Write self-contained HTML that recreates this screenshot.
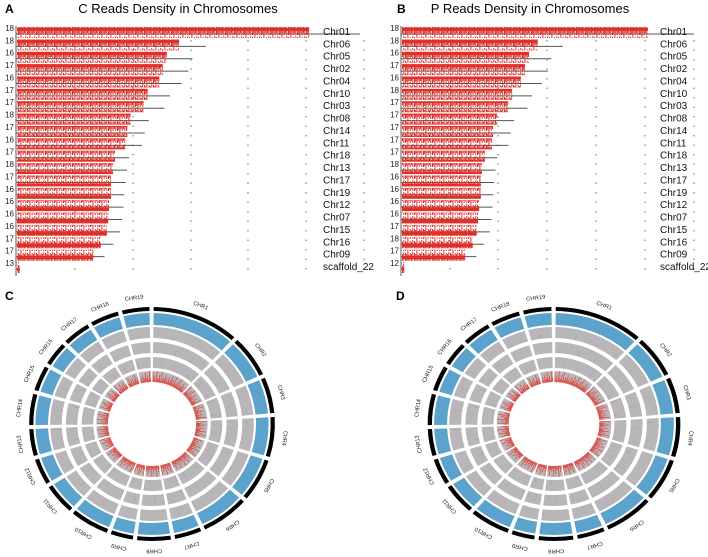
<!DOCTYPE html>
<html><head><meta charset="utf-8">
<style>
html,body{margin:0;padding:0;background:#fff;}
svg{display:block;font-family:"Liberation Sans",sans-serif;}
</style></head>
<body>
<svg id="fig" width="708" height="557" viewBox="0 0 708 557">
<defs>
<pattern id="redpat" width="9" height="12" patternUnits="userSpaceOnUse">
<rect x="0" y="1" width="1" height="10" fill="#e0302a"/>
<rect x="1.2" y="2" width="1" height="8" fill="#e0302a"/>
<rect x="2.4" y="0" width="1" height="12" fill="#e0302a"/>
<rect x="3.6" y="3" width="0.8" height="6" fill="#e0302a"/>
<rect x="4.7" y="1" width="1" height="10" fill="#e0302a"/>
<rect x="6" y="2" width="1" height="7" fill="#e0302a"/>
<rect x="7.3" y="0" width="1" height="11" fill="#e0302a"/>
<rect x="0" y="4" width="9" height="3" fill="#e0302a"/>
</pattern>
</defs>
<text x="5" y="13" font-size="12" font-weight="bold">A</text>
<text x="178" y="13" font-size="13" text-anchor="middle">C Reads Density in Chromosomes</text>
<text x="397" y="13" font-size="12" font-weight="bold">B</text>
<text x="530" y="13" font-size="13" text-anchor="middle">P Reads Density in Chromosomes</text>
<text x="5" y="300" font-size="12" font-weight="bold">C</text>
<text x="396" y="300" font-size="12" font-weight="bold">D</text>
<g id="panelA"></g>
<g id="panelB"></g>
<g id="panelC"></g>
<g id="panelD"></g>
</svg>
<script>
// ---- data ----
const rowNames = ["Chr01","Chr06","Chr05","Chr02","Chr04","Chr10","Chr03","Chr08","Chr14","Chr11","Chr18","Chr13","Chr17","Chr19","Chr12","Chr07","Chr15","Chr16","Chr09","scaffold_22"];
const rowLengths = [50.5,27.9,25.9,25.3,24.3,22.6,21.8,19.5,18.9,18.5,16.6,16.3,16.1,15.9,15.8,15.6,15.3,14.3,13.0,0.5];
const coverC = [42.9,23.8,22.0,21.4,20.9,19.2,18.6,16.7,16.2,15.9,14.4,14.1,13.8,13.8,13.5,13.4,13.2,12.3,11.2,0.4];
const coverP = [42.4,23.4,21.9,21.2,20.5,19.0,18.3,16.4,15.7,15.5,14.3,13.8,13.6,13.6,13.3,13.1,12.9,12.2,10.9,0.4];
const maxC = [18,18,16,17,16,17,17,18,17,16,17,18,17,16,16,16,16,17,17,13];
const maxP = [18,18,16,17,16,18,17,17,17,17,17,18,16,16,16,16,17,18,17,12];
const circChr = ["CHR1","CHR2","CHR3","CHR4","CHR5","CHR6","CHR7","CHR8","CHR9","CHR10","CHR11","CHR12","CHR13","CHR14","CHR15","CHR16","CHR17","CHR18","CHR19"];
const circLen = [50.5,25.3,21.8,24.3,25.9,27.9,15.6,19.5,13.0,22.6,18.5,15.8,16.3,18.9,15.3,14.3,16.1,16.6,15.9];
const innerPattern = [0.9,0.3,0.6,0.2,1.0,0.4,0.3,0.7,0.25,0.95,0.2,0.5,0.35,0.8,0.3,0.55,0.2,0.7,0.3,0.45];
const NS="http://www.w3.org/2000/svg";
function mk(tag,attrs,parent){const e=document.createElementNS(NS,tag);for(const k in attrs)e.setAttribute(k,attrs[k]);parent.appendChild(e);return e;}

function density(gid, axisX, pxPerMb, ticks, labelX, cover, maxv){
  const g=document.getElementById(gid);
  const y0=32, dy=12.37;
  const yOf=i=>y0+i*dy;
  ticks.forEach(tx=>{
    const t=mk('line',{x1:tx,y1:40,x2:tx,y2:276,stroke:'#444','stroke-width':0.8,'stroke-dasharray':'1.5,8'},g);
    
    
  });
  const ax=mk('line',{x1:axisX,y1:26,x2:axisX,y2:276,stroke:'#333','stroke-width':0.8},g);
  
  
  rowNames.forEach((n,i)=>{
    const y=yOf(i);
    const gl=mk('line',{x1:axisX,y1:y+2,x2:axisX+rowLengths[i]*pxPerMb,y2:y+2,stroke:'#555','stroke-width':1},g);
    
    
    const r=mk('rect',{x:axisX+1,y:y-5,width:Math.max(1,cover[i]*pxPerMb),height:11,fill:'url(#redpat)'},g);
    
    
    const mt=mk('text',{x:axisX-2,y:y-1,'font-size':8,'text-anchor':'end',fill:'#222'},g);
    mt.textContent=maxv[i];
    
    
    const lt=mk('text',{x:labelX,y:y+3,'font-size':10,fill:'#111'},g);
    lt.textContent=n;
    
    
  });
}
density('panelA',16,6.81,[75,133,191,248,306,364],323,coverC,maxC);
density('panelB',401,5.80,[450,498,547,596,645,694],660,coverP,maxP);

function arc(r1,r2,a1,a2){
  const p=(r,a)=>[r*Math.sin(a),-r*Math.cos(a)];
  const L=(a2-a1)>Math.PI?1:0;
  const [x1,y1]=p(r2,a1),[x2,y2]=p(r2,a2),[x3,y3]=p(r1,a2),[x4,y4]=p(r1,a1);
  return `M${x1},${y1}A${r2},${r2} 0 ${L} 1 ${x2},${y2}L${x3},${y3}A${r1},${r1} 0 ${L} 0 ${x4},${y4}Z`;
}
function circos(gid,cx,cy,sx){
  const root=document.getElementById(gid);
  const g=mk('g',{transform:`translate(${cx},${cy}) scale(${sx},1)`},root);
  const gapDeg=2, total=circLen.reduce((a,b)=>a+b,0);
  const per=(360-gapDeg*circLen.length)/total;
  let a=0.8;
  const rings=[[86,97],[71,82],[56,67],[42,53]];
  circChr.forEach((c,i)=>{
    const a1=a*Math.PI/180, a2=(a+circLen[i]*per)*Math.PI/180;
    const k=mk('path',{d:arc(113,117,a1,a2),fill:'#000'},g);
    
    
    const b=mk('path',{d:arc(99,111,a1,a2),fill:'#5ba3cc'},g);
    
    
    rings.forEach((rr,j)=>{
      const q=mk('path',{d:arc(rr[0],rr[1],a1,a2),fill:'#b8b6b8'},g);
      
      
    });
    let idx=i*3;
    for(let d=a+0.3; d<a+circLen[i]*per-0.2; d+=1.1){
      const h=innerPattern[idx%innerPattern.length]; idx++;
      const rad=d*Math.PI/180, s=Math.sin(rad), co=-Math.cos(rad);
      const r0=42, r1=42+h*11;
      const l=mk('line',{x1:r0*s,y1:r0*co,x2:r1*s,y2:r1*co,stroke:'#e8352c','stroke-width':0.6},g);
      
      
      if(idx%4===0){
        const rr=rings[idx%3];
        const l2=mk('line',{x1:rr[0]*s,y1:rr[0]*co,x2:(rr[0]+h*(rr[1]-rr[0]))*s,y2:(rr[0]+h*(rr[1]-rr[0]))*co,stroke:'#c86a6a','stroke-width':0.4,opacity:0.6},g);
        
        
      }
    }
    const mid=(a+circLen[i]*per/2), mr=mid*Math.PI/180;
    const tx=127*Math.sin(mr), ty=-127*Math.cos(mr);
    const t=mk('text',{x:tx,y:ty,'font-size':5.5,'text-anchor':'middle','dominant-baseline':'middle',fill:'#222',transform:`rotate(${mid},${tx},${ty})`},g);
    t.textContent=c;
    
    
    a+=circLen[i]*per+gapDeg;
  });
}
circos('panelC',152,424,1.05);
circos('panelD',554,424,1.08);
</script>
</body></html>
